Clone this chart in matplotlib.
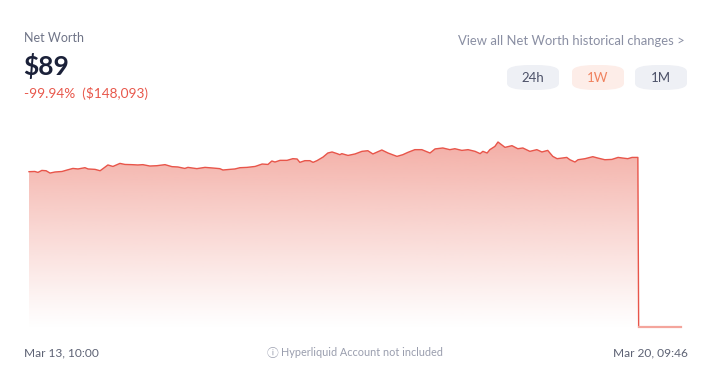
import numpy as np
import matplotlib
matplotlib.use("Agg")
import matplotlib.pyplot as plt
from matplotlib.patches import FancyBboxPatch
from matplotlib.colors import to_rgb

plt.rcParams["font.family"] = ["Lato", "DejaVu Sans"]

# hours since Mar 13, 10:00
hours = [
    0.0, 1.5, 2.3, 3.3, 4.4, 5.4, 6.7, 8.5, 9.8, 11.3, 12.6, 14.4, 15.2, 17.0,
    18.3, 19.0, 20.3, 21.6, 23.4, 24.7, 26.5, 28.0, 29.3, 31.1, 32.9, 35.0,
    36.8, 38.3, 40.1, 40.9, 43.2, 45.3, 47.3, 49.1, 49.9, 51.7, 53.0, 54.3,
    56.1, 58.2, 60.0, 61.5, 62.5, 63.3, 64.6, 66.4, 67.9, 69.0, 69.7, 71.0,
    72.3, 73.1, 74.1, 75.7, 76.9, 78.0, 79.3, 80.0, 80.5, 82.1, 83.9, 85.7,
    87.2, 88.5, 90.8, 92.4, 94.7, 96.2, 97.5, 99.3, 101.1, 103.2, 104.5,
    106.5, 108.3, 109.6, 111.4, 113.0, 114.8, 116.1, 116.8, 117.9, 118.6,
    119.9, 120.7, 122.5, 124.3, 125.8, 127.1, 128.9, 130.7, 132.0, 133.5,
    134.8, 135.9, 137.2, 138.4, 139.2, 140.5, 141.3, 143.1, 145.1, 146.4,
    148.2, 150.0, 151.6, 152.8, 154.1, 155.2, 156.7, 156.9, 167.8,
]
# net worth in thousands of USD
net_worth_k = [
    148.2, 148.4, 147.5, 149.4, 149.1, 146.9, 147.9, 148.4, 149.8, 151.3,
    150.8, 152.0, 150.8, 150.4, 149.1, 151.0, 154.6, 153.2, 156.1, 155.1,
    154.9, 154.6, 154.9, 153.6, 153.9, 154.9, 153.0, 152.7, 151.3, 152.3,
    151.1, 152.3, 151.7, 151.1, 149.8, 150.4, 150.8, 152.0, 152.3, 153.2,
    155.5, 155.1, 158.4, 157.4, 159.0, 159.0, 160.6, 160.3, 157.1, 158.7,
    158.7, 157.1, 158.7, 162.2, 166.0, 167.0, 165.4, 164.4, 165.4, 163.7,
    165.1, 167.6, 168.2, 165.1, 168.9, 166.0, 162.8, 164.4, 166.6, 169.2,
    169.2, 166.0, 169.9, 170.8, 169.2, 170.1, 168.5, 169.2, 167.6, 165.4,
    167.6, 166.0, 169.2, 172.3, 176.5, 171.4, 173.0, 170.1, 170.8, 167.6,
    169.2, 167.0, 168.5, 162.8, 160.6, 161.2, 161.8, 159.6, 157.4, 159.6,
    160.6, 162.5, 161.2, 159.6, 159.9, 161.8, 161.2, 160.6, 161.8, 161.8,
    0.089, 0.089,
]

title = "Net Worth"
current_value = "$89"
change_text = "-99.94%  ($148,093)"
link_text = "View all Net Worth historical changes >"
ranges = ["24h", "1W", "1M"]
active_range = "1W"
start_label = "Mar 13, 10:00"
end_label = "Mar 20, 09:46"
info_icon = "\u24d8"
note_text = "Hyperliquid Account not included"

W, H = 712, 387
fig = plt.figure(figsize=(W / 100, H / 100), dpi=100)
fig.patch.set_facecolor("white")


def fx(x):
    return x / W


def fy(y):
    return 1 - y / H


x = np.array(hours)
y = np.array(net_worth_k)

ax = fig.add_axes([fx(29), fy(327), fx(681) - fx(29), fy(142) - fy(327)])
ax.set_xlim(x.min(), x.max())
ax.set_ylim(y.min(), y.max())
ax.axis("off")

line_color = "#e8554a"
fill_rgb = to_rgb("#ef8c80")

# vertical gradient fill, clipped to the area under the line
poly = ax.fill_between(x[:-1], y[:-1], y.min(), color="none", lw=0)
grad = np.zeros((256, 1, 4))
grad[:, 0, :3] = fill_rgb
grad[:, 0, 3] = np.linspace(0.72, 0.0, 256) ** 1.1
img = ax.imshow(grad, aspect="auto", origin="upper",
                extent=[x.min(), x.max(), y.min() - 2, y.max()], zorder=1)
img.set_clip_path(poly.get_paths()[0], transform=ax.transData)

ax.plot(x[:-1], y[:-1], color=line_color, lw=1.0, zorder=3, clip_on=False)
ax.plot(x[-2:], y[-2:], color="#f4a59c", lw=1.6, zorder=3, clip_on=False)

# header texts
fig.text(fx(24), fy(38), title, fontsize=9, color="#6f7487", va="center", ha="left")
fig.text(fx(23), fy(66), current_value, fontsize=19, fontweight="bold",
         color="#1b2139", va="center", ha="left")
fig.text(fx(24), fy(94), change_text, fontsize=9.8, color="#e8574b",
         va="center", ha="left")
fig.text(fx(685), fy(41), link_text, fontsize=9.4, color="#8a8fa3",
         va="center", ha="right")

# range pills
pill_x = [507, 572, 635]
pill_w = 52
for lbl, px in zip(ranges, pill_x):
    active = lbl == active_range
    face = "#fdede8" if active else "#eef0f5"
    tc = "#f0825f" if active else "#4c5168"
    box = FancyBboxPatch((fx(px), fy(90)), fx(pill_w), fy(65) - fy(90),
                         boxstyle="round,pad=0,rounding_size=0.032",
                         transform=fig.transFigure, facecolor=face,
                         edgecolor="none", mutation_aspect=H / W * 1.0)
    fig.patches.append(box)
    fig.text(fx(px + pill_w / 2), fy(77.5), lbl, fontsize=9.5, color=tc,
             va="center", ha="center")

# footer
fig.text(fx(24), fy(353), start_label, fontsize=8.6, color="#5d6274",
         va="center", ha="left")
fig.text(fx(688), fy(353), end_label, fontsize=8.6, color="#5d6274",
         va="center", ha="right")
fig.text(fx(272.5), fy(354), info_icon, fontsize=8.5, color="#9a9eae",
         va="center", ha="center",
         family=["DejaVu Sans", "Noto Sans CJK JP"])
fig.text(fx(281), fy(353), note_text, fontsize=7.8, color="#9a9eae",
         va="center", ha="left")

fig.savefig("out.png", dpi=100)
